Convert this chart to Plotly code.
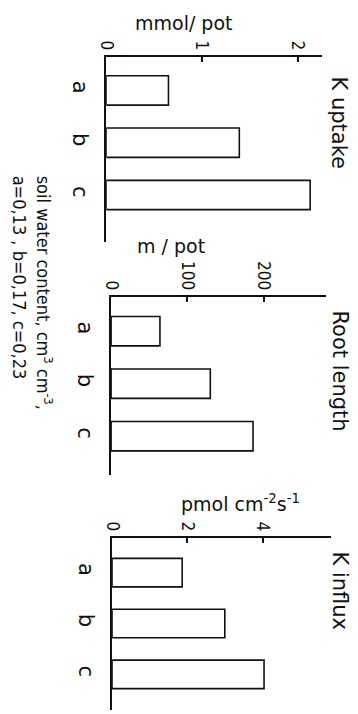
import plotly.graph_objects as go

W, H = 358, 714

categories = ["a", "b", "c"]
k_uptake = [0.65, 1.39, 2.13]          # mmol/pot
root_length = [64, 130, 186]           # m/pot
k_influx = [1.86, 2.99, 4.03]          # pmol cm-2 s-1

titles = ["K uptake", "Root length", "K influx"]
units = ["mmol/ pot", "m / pot", "pmol cm<sup>-2</sup>s<sup>-1</sup>"]
xticks = [[0, 1, 2], [0, 100, 200], [0, 2, 4]]
side_note = "soil water content, cm<sup>3</sup> cm<sup>-3</sup>,<br>a=0,13 , b=0,17, c=0,23"

FONT = "DejaVu Sans"
TICKFONT = "DejaVu Sans Condensed, DejaVu Sans"
BLACK = "#111111"

def px_x(p):
    return p / W

def px_y(p):
    return 1 - p / H

panels = [
    dict(x0=99, x1=321, yt=57, yb=242, xmax=2.254, krange=(-0.64, 2.90)),
    dict(x0=104, x1=325, yt=297, yb=475, xmax=281.5, krange=(-0.65, 2.74)),
    dict(x0=105, x1=330, yt=538, yb=710, xmax=5.8, krange=(-0.68, 2.70)),
]
series = [k_uptake, root_length, k_influx]

fig = go.Figure()
layout = dict(
    width=W, height=H, margin=dict(l=0, r=0, t=0, b=0),
    paper_bgcolor="white", plot_bgcolor="white", showlegend=False,
    font=dict(family=FONT, size=17, color=BLACK),
)

annotations = []
for i, (p, vals) in enumerate(zip(panels, series)):
    xa = "xaxis" if i == 0 else f"xaxis{i+1}"
    ya = "yaxis" if i == 0 else f"yaxis{i+1}"
    xr = "x" if i == 0 else f"x{i+1}"
    yr = "y" if i == 0 else f"y{i+1}"
    fig.add_trace(go.Bar(
        x=vals, y=categories, orientation="h", xaxis=xr, yaxis=yr,
        width=0.56, marker=dict(color="white", line=dict(color=BLACK, width=1.6)),
    ))
    layout[xa] = dict(
        domain=[px_x(p["x0"]), px_x(p["x1"])], anchor=yr, side="top",
        range=[0, p["xmax"]], tickvals=xticks[i], ticktext=[str(t) for t in xticks[i]],
        showline=True, linecolor=BLACK, linewidth=1.6, ticks="inside", ticklen=5,
        tickcolor=BLACK, tickwidth=1.5, tickangle=90, showgrid=False, zeroline=False,
        tickfont=dict(size=17, family=TICKFONT, color=BLACK), ticklabelstandoff=-1,
        fixedrange=True,
    )
    layout[ya] = dict(
        domain=[px_y(p["yb"]), px_y(p["yt"])], anchor=xr,
        type="category", range=[p["krange"][1], p["krange"][0]],
        showline=True, linecolor=BLACK, linewidth=1.6, ticks="", showgrid=False,
        zeroline=False, tickangle=90, tickfont=dict(size=21, family=FONT, color=BLACK),
        ticklabelstandoff=6, fixedrange=True,
    )

unit_pos = [(179, 23), (166, 246), (237, 503)]
for u, (ux, uy) in zip(units, unit_pos):
    annotations.append(dict(text=u, x=px_x(ux), y=px_y(uy), xref="paper", yref="paper",
                            xanchor="center", yanchor="middle",
                            showarrow=False, font=dict(size=19, family=FONT, color=BLACK)))

title_pos = [(338, 123), (339, 371), (339, 591)]
for t, (tx, ty) in zip(titles, title_pos):
    annotations.append(dict(text=t, x=px_x(tx), y=px_y(ty), xref="paper", yref="paper",
                            xanchor="center", yanchor="middle",
                            showarrow=False, textangle=90,
                            font=dict(size=21, family=FONT, color=BLACK)))

annotations.append(dict(text=side_note, x=px_x(24), y=px_y(293), xref="paper", yref="paper",
                        xanchor="center", yanchor="middle",
                        showarrow=False, textangle=90, align="left",
                        font=dict(size=18, family=TICKFONT, color=BLACK)))

layout["annotations"] = annotations
fig.update_layout(**layout)
fig.write_html("out.html")
